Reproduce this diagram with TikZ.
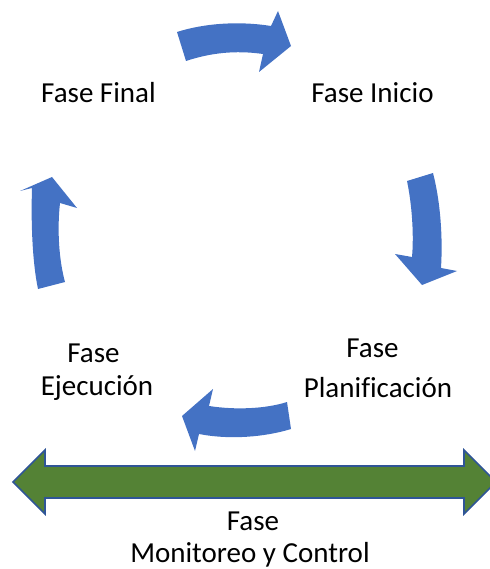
\documentclass[tikz,border=0pt]{standalone}
\usepackage{fontspec}
\setmainfont{Carlito}[Ligatures=NoCommon]
\definecolor{cycleblue}{HTML}{4472C4}
\definecolor{bargreen}{HTML}{548235}
\definecolor{barline}{HTML}{2F5597}
\begin{document}
\begin{tikzpicture}[x=1pt,y=-1pt,
  cyclearrow/.style={fill=cycleblue,draw=none},
  spanarrow/.style={fill=bargreen,draw=barline,line width=1.6pt,line join=miter},
  label/.style={font=\fontsize{29}{34}\selectfont,anchor=base,inner sep=0pt,text=black}]
\useasboundingbox (0,0) rectangle (489,569);

% curved cycle arrows
\fill[cyclearrow] (177,32) .. controls (205,23) and (240,21) .. (271,26)
  -- (278,11) -- (291,46) -- (259,72) -- (263,54)
  .. controls (235,50) and (210,53) .. (186,61) -- cycle;
\fill[cyclearrow] (433,173) .. controls (440,200) and (443,235) .. (441,268)
  -- (457,271) -- (422,285) -- (395,254) -- (412,257)
  .. controls (414,235) and (412,205) .. (407,181) -- cycle;
\fill[cyclearrow] (287,402) .. controls (265,409) and (235,410) .. (209,406)
  -- (213,389) -- (182,416) -- (195,451) -- (199,434)
  .. controls (230,440) and (265,437) .. (291,429) -- cycle;
\fill[cyclearrow] (38,289) .. controls (32,260) and (31,220) .. (32,188)
  -- (20,191) -- (52,177) -- (77,208) -- (60,203)
  .. controls (57,230) and (59,260) .. (65,282) -- cycle;

% horizontal double arrow
\draw[spanarrow] (13,482) -- (45,450) -- (45,466) -- (464,466) -- (464,450)
  -- (496,482) -- (464,514) -- (464,498) -- (45,498) -- (45,514) -- cycle;

% phase labels
\node[label] (final) at (98.5,103) {Fase Final};
\node[label] (inicio) at (372.5,103) {Fase Inicio};
\node[label] (planA) at (372.5,357) {Fase};
\node[label] (planB) at (378,397) {Planificación};
\node[label] (ejecA) at (93.5,362) {Fase};
\node[label] (ejecB) at (97,395) {Ejecución};
\node[label] (monA) at (253,530) {Fase};
\node[label] (monB) at (250,562) {Monitoreo y Control};
\end{tikzpicture}
\end{document}
